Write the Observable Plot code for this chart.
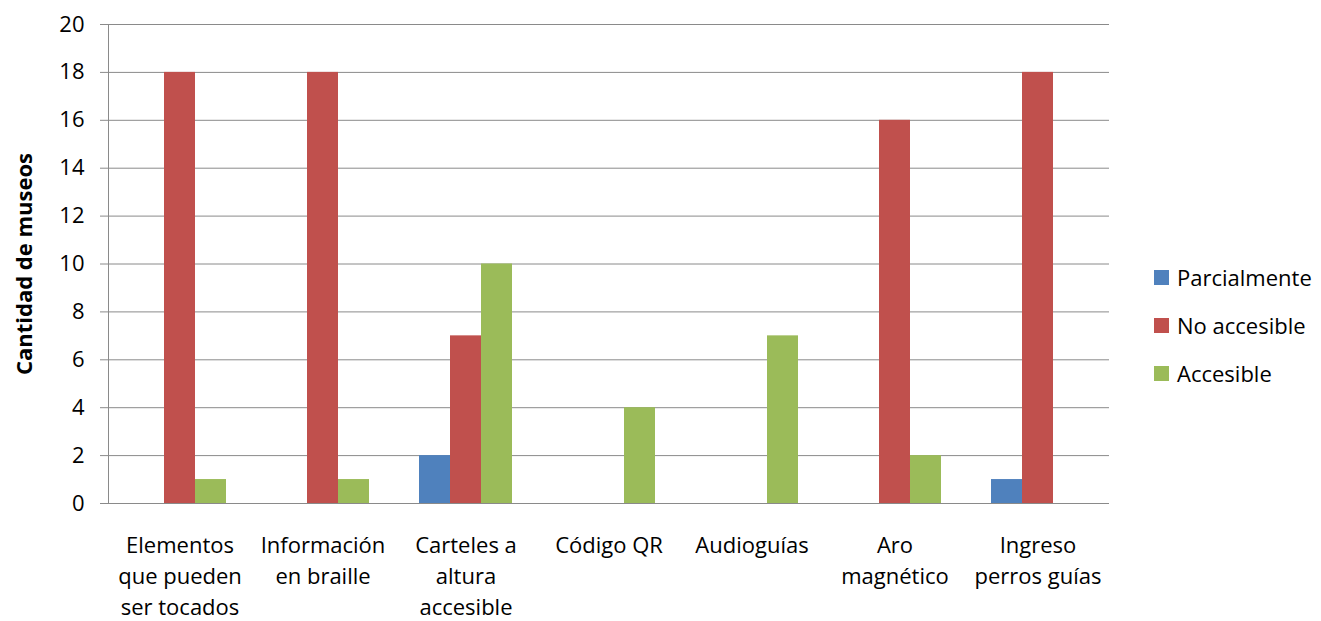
<!DOCTYPE html>
<html><head><meta charset="utf-8">
<script src="https://cdn.jsdelivr.net/npm/d3@7"></script>
<script src="https://cdn.jsdelivr.net/npm/@observablehq/plot@0.6"></script>
<style>
body{margin:0;background:#fff;font-family:"Open Sans",sans-serif;}
#wrap{position:relative;width:1321px;height:621px;overflow:hidden;}
.lg{position:absolute;left:1154px;height:48px;display:flex;align-items:center;font-size:22px;color:#000;white-space:nowrap;}
.lg span.sw{display:inline-block;width:15px;height:15px;margin-right:8px;}
</style></head>
<body><div id="wrap"></div>
<script>
const categories = ["Elementos\nque pueden\nser tocados", "Información\nen braille", "Carteles a\naltura\naccesible", "Código QR", "Audioguías", "Aro\nmagnético", "Ingreso\nperros guías"];
const series = ["Parcialmente", "No accesible", "Accesible"];
const parcialmente = [0, 0, 2, 0, 0, 0, 1];
const noAccesible = [18, 18, 7, 0, 0, 16, 18];
const accesible = [1, 1, 10, 4, 7, 2, 0];
const colors = ["#4F81BD", "#C0504D", "#9BBB59"];
const yTicks = [0, 2, 4, 6, 8, 10, 12, 14, 16, 18, 20];

const seriesValues = [parcialmente, noAccesible, accesible];
const data = [];
categories.forEach((c, i) => series.forEach((s, j) => data.push({cat: c, serie: s, value: seriesValues[j][i]})));

const plot = Plot.plot({
  width: 1321, height: 621,
  marginLeft: 106, marginRight: 210, marginTop: 24, marginBottom: 118,
  style: {fontFamily: "'Open Sans', sans-serif", fontSize: "22px", color: "#000", background: "#fff"},
  fx: {domain: categories, padding: 0},
  x: {domain: series, paddingInner: 0, paddingOuter: 0.765, axis: null},
  y: {domain: [0, 20]},
  color: {domain: series, range: colors},
  marks: [
    Plot.gridY(yTicks, {stroke: "#8a8a8a", strokeOpacity: 1}),
    Plot.barY(data.filter(d => d.value > 0), {fx: "cat", x: "serie", y: "value", fill: "serie"}),
    Plot.axisY(yTicks, {tickSize: 8, tickPadding: 16, stroke: "#8a8a8a", label: "Cantidad de museos", labelAnchor: "center", labelArrow: "none", labelOffset: 92, fontSize: 22}),
    Plot.axisFx({anchor: "bottom", tickSize: 0, tickPadding: 28, lineHeight: 1.4, fontSize: 22, label: null}),
    Plot.frame({anchor: "left", facetAnchor: "left", stroke: "#8a8a8a"})
  ]
});
const wrap = document.getElementById("wrap");
wrap.appendChild(plot);
// bold y label
d3.select(plot).selectAll("text").filter(function(){return this.textContent === "Cantidad de museos";}).attr("font-weight", "bold").attr("font-size", 22);

series.forEach((s, j) => {
  const div = document.createElement("div");
  div.className = "lg";
  div.style.top = (253 + j * 48) + "px";
  div.innerHTML = `<span class="sw" style="background:${colors[j]}"></span>${s}`;
  wrap.appendChild(div);
});
</script>
</body></html>
